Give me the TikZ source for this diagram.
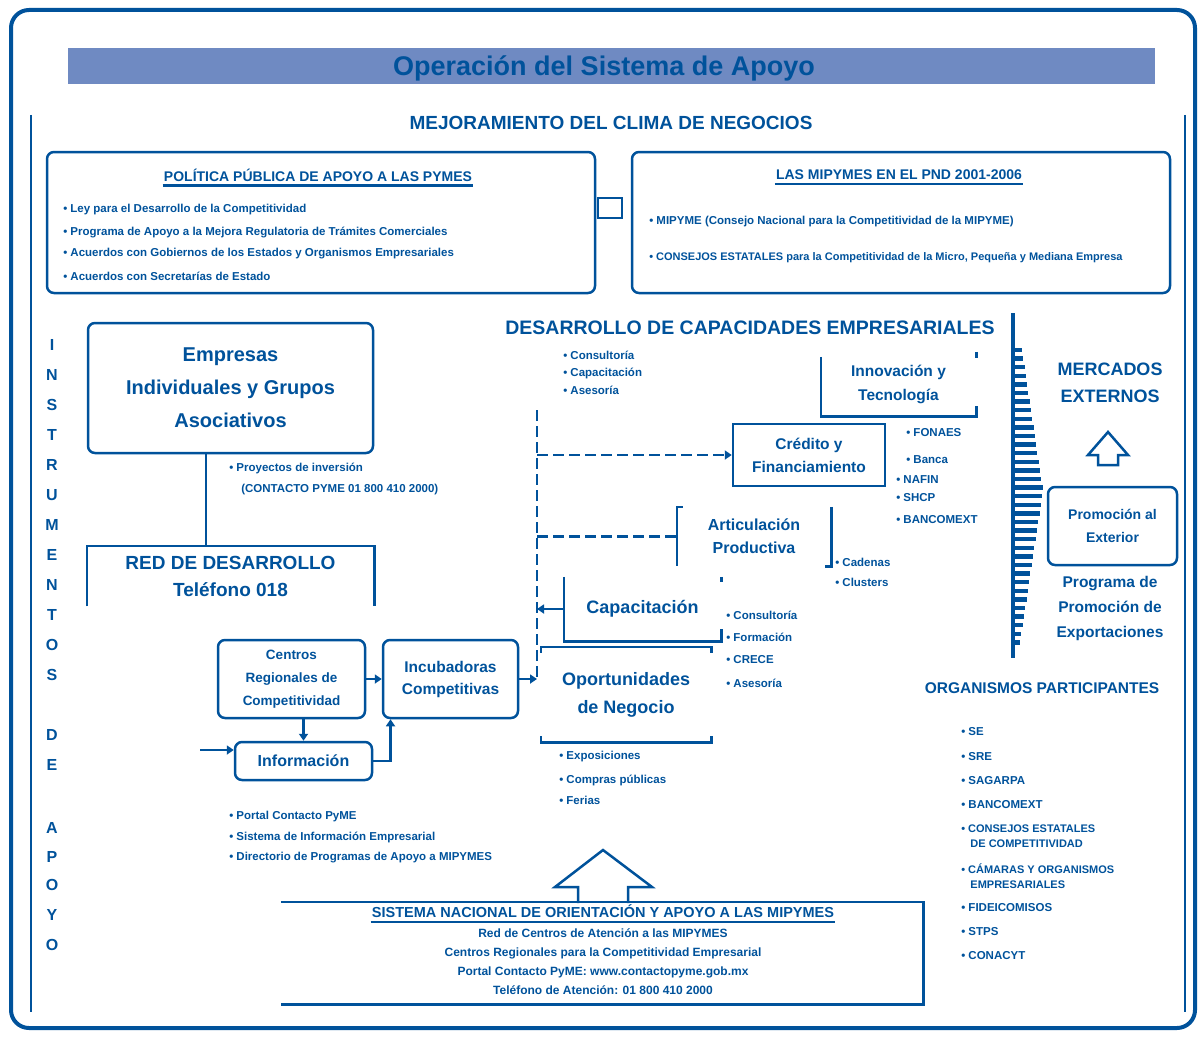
\documentclass[tikz,border=0pt]{standalone}
\usepackage{fontspec}
\setmainfont{Liberation Sans}
\usetikzlibrary{arrows.meta}
\definecolor{azul}{RGB}{0,82,155}
\definecolor{barra}{RGB}{111,138,194}

\tikzset{
  caja/.style={draw=azul, line width=2.5pt, rounded corners=7pt, align=center, text=azul,
    inner sep=0pt, font=\bfseries\fontsize{13}{23}\selectfont},
  hueco/.style={align=center, text=azul, inner sep=0pt, font=\bfseries\fontsize{13}{23}\selectfont},
  encab/.style={text=azul, inner sep=0pt, font=\bfseries\fontsize{14}{16}\selectfont},
  vineta/.style={anchor=west, align=left, text=azul, inner sep=0pt, font=\bfseries\fontsize{11.5}{15}\selectfont},
  letra/.style={text=azul, inner sep=0pt, font=\bfseries\fontsize{16}{16}\selectfont},
  flecha/.style={draw=azul, line width=2.5pt, -{Triangle[length=7pt,width=9pt]}},
  raya/.style={draw=azul, line width=2.5pt, dash pattern=on 11pt off 5pt},
}

\begin{document}
\begin{tikzpicture}[x=1pt,y=-1pt,line width=2.5pt,color=azul]
  \useasboundingbox (0,0) rectangle (1204,1038);
  % marco
  \draw[line width=4pt, rounded corners=18pt] (11,10) rectangle (1195,1028);
  \draw (31,115) -- (31,1012);
  \draw (1185,115) -- (1185,1012);
  \fill[barra] (68,48) rectangle (1155,84);
  \node[text=azul, font=\bfseries\fontsize{27}{27}\selectfont] (titulo) at (604,68) {Operación del Sistema de Apoyo};
  \node[encab, font=\bfseries\fontsize{19}{19}\selectfont] (clima) at (611,123) {MEJORAMIENTO DEL CLIMA DE NEGOCIOS};

  % clima de negocios
  \node[caja, minimum width=548, minimum height=141] (politica) at (321,222.5) {};
  \node[caja, minimum width=538, minimum height=141] (mipyme) at (901,222.5) {};
  \node[draw=azul, line width=2.5pt, minimum width=24, minimum height=20, inner sep=0pt] (union) at (610,208) {};
  \node[encab] (hpol) at (318,175) {POLÍTICA PÚBLICA DE APOYO A LAS PYMES};
  \draw ([yshift=-3pt]hpol.south west) -- ([yshift=-3pt]hpol.south east);
  \node[vineta] (p1) at (62,210) {• Ley para el Desarrollo de la Competitividad};
  \node[vineta] (p2) at (62,232) {• Programa de Apoyo a la Mejora Regulatoria de Trámites Comerciales};
  \node[vineta] (p3) at (62,254) {• Acuerdos con Gobiernos de los Estados y Organismos Empresariales};
  \node[vineta] (p4) at (62,276) {• Acuerdos con Secretarías de Estado};
  \node[encab] (hmip) at (899,175) {LAS MIPYMES EN EL PND 2001-2006};
  \draw ([yshift=-3pt]hmip.south west) -- ([yshift=-3pt]hmip.south east);
  \node[vineta] (m1) at (648,222) {• MIPYME (Consejo Nacional para la Competitividad de la MIPYME)};
  \node[vineta, font=\bfseries\fontsize{11}{15}\selectfont] (m2) at (648,258) {• CONSEJOS ESTATALES para la Competitividad de la Micro, Pequeña y Mediana Empresa};

  % instrumentos de apoyo
  \foreach \l/\yy in {I/345,N/375,S/405,T/435,R/465,U/495,M/525,E/555,N/585,T/615,O/645,S/675,
                      D/735,E/765,A/828,P/857,O/885,Y/915,O/945}
    \node[letra] (v\yy) at (52,\yy) {\l};

  \node[caja, font=\bfseries\fontsize{20}{33}\selectfont, minimum width=285, minimum height=130] (empresas) at (230.5,388)
    {Empresas\\Individuales y Grupos\\Asociativos};
  \node[hueco, font=\bfseries\fontsize{19}{27}\selectfont, minimum width=285, minimum height=58] (red) at (230.5,576)
    {RED DE DESARROLLO\\Teléfono 018};
  \draw (red.south west) -- (red.north west) -- (red.north east) -- (red.south east);
  \draw ([xshift=-24.5pt]empresas.south) -- ([xshift=-24.5pt]red.north);
  \node[vineta] (e1) at (228,468) {• Proyectos de inversión};
  \node[vineta] (e2) at (240,490) {(CONTACTO PYME 01 800 410 2000)};

  \node[caja, font=\bfseries\fontsize{13.5}{23}\selectfont, minimum width=147, minimum height=78] (centros) at (291.5,679)
    {Centros\\Regionales de\\Competitividad};
  \node[caja, font=\bfseries\fontsize{15.5}{22}\selectfont, minimum width=135, minimum height=78] (incub) at (450.5,679)
    {Incubadoras\\Competitivas};
  \node[caja, font=\bfseries\fontsize{16}{18}\selectfont, minimum width=137, minimum height=38] (info) at (303.5,761)
    {Información};
  \coordinate (entrada) at (200,750);
  \draw[flecha] (entrada) -- (entrada -| info.west);
  \draw[flecha] (centros.east) -- (incub.west);
  \draw[flecha] (centros.south -| info) -- (info.north);
  \draw[flecha] (info.east) -| ([xshift=-60pt]incub.south);
  \node[vineta] (i1) at (228,817) {• Portal Contacto PyME};
  \node[vineta] (i2) at (228,837) {• Sistema de Información Empresarial};
  \node[vineta] (i3) at (228,858) {• Directorio de Programas de Apoyo a MIPYMES};

  % desarrollo de capacidades
  \node[encab, font=\bfseries\fontsize{19.5}{20}\selectfont] (hdes) at (750,328) {DESARROLLO DE CAPACIDADES EMPRESARIALES};
  \node[vineta] (d1) at (562,355) {• Consultoría};
  \node[vineta] (d2) at (562,373) {• Capacitación};
  \node[vineta] (d3) at (562,390) {• Asesoría};
  \coordinate (ejeA) at (537,410);
  \coordinate (ejeB) at (537,682);
  \draw[raya] (ejeA) -- (ejeB);

  \node[hueco, font=\bfseries\fontsize{15.5}{24}\selectfont, minimum width=153, minimum height=62] (innov) at (898.5,384) {Innovación y\\Tecnología};
  \draw ([yshift=-5pt]innov.north west) -- (innov.south west) -- (innov.south east) -- ++(0,-10);
  \draw (innov.north east) -- ++(0,6);
  \node[draw=azul, line width=2.5pt, align=center, text=azul, inner sep=0pt, font=\bfseries\fontsize{15.5}{23}\selectfont,
    minimum width=152, minimum height=62] (credito) at (809,455) {Crédito y\\Financiamiento};
  \node[hueco, font=\bfseries\fontsize{16}{23}\selectfont, minimum width=152, minimum height=57] (artic) at (754,536.5) {Articulación\\Productiva};
  \draw ([xshift=6pt]artic.north west) -- (artic.north west) -- (artic.south west);
  \draw (artic.north east) -- (artic.south east) -- ++(-6,0);
  \node[hueco, font=\bfseries\fontsize{18}{23}\selectfont, minimum width=155, minimum height=62] (capac) at (642.5,609) {Capacitación};
  \draw (capac.north west) -- (capac.south west) -- (capac.south east) -- ++(0,-12);
  \draw (capac.north east) -- ++(0,5);
  \node[hueco, font=\bfseries\fontsize{18}{28}\selectfont, minimum width=168, minimum height=93] (oport) at (626,694.5) {Oportunidades\\de Negocio};
  \draw ([yshift=-6pt]oport.north west) -- (oport.north west) -- (oport.north east) -- ++(0,6);
  \draw ([yshift=6pt]oport.south west) -- (oport.south west) -- (oport.south east) -- ++(0,-6);

  \draw[raya, -{Triangle[length=7pt,width=9pt]}] (credito.west -| ejeA) -- (credito.west);
  \draw[raya] (artic.west -| ejeA) -- (artic.west);
  \draw[flecha] (capac.west) -- (capac.west -| ejeA);
  \draw[flecha] (incub.east) -- (incub.east -| ejeA);

  \node[vineta] (c1) at (905,433) {• FONAES};
  \node[vineta] (c2) at (905,460) {• Banca};
  \node[vineta] (c3) at (895,480) {• NAFIN};
  \node[vineta] (c4) at (895,498) {• SHCP};
  \node[vineta] (c5) at (895,520) {• BANCOMEXT};
  \node[vineta] (a1) at (834,562) {• Cadenas};
  \node[vineta] (a2) at (834,582) {• Clusters};
  \node[vineta] (k1) at (725,615) {• Consultoría};
  \node[vineta] (k2) at (725,637) {• Formación};
  \node[vineta] (k3) at (725,660) {• CRECE};
  \node[vineta] (k4) at (725,683) {• Asesoría};
  \node[vineta] (o1) at (558,757) {• Exposiciones};
  \node[vineta] (o2) at (558,780) {• Compras públicas};
  \node[vineta] (o3) at (558,800) {• Ferias};

  % mercados externos
  \draw[line width=4pt] (1013,313) -- (1013,658);
  \foreach \yy in {350,358.6,...,650} {
    \pgfmathsetmacro\largo{5+24*max(0,1-abs(\yy-490)/160)}
    \draw[line width=4.5pt] (1014,\yy) -- ++(\largo,0);
  }
  \node[hueco, font=\bfseries\fontsize{18}{27}\selectfont] (mercados) at (1110,383) {MERCADOS\\EXTERNOS};
  \draw (1108,432) -- (1128,455) -- (1118,455) -- (1118,465) -- (1098,465) -- (1098,455) -- (1088,455) -- cycle;
  \node[caja, font=\bfseries\fontsize{14}{23}\selectfont, minimum width=129, minimum height=78] (comercio) at (1112.5,526)
    {Promoción al\\Exterior};
  \node[hueco, font=\bfseries\fontsize{15.5}{25}\selectfont] (programa) at (1110,608) {Programa de\\Promoción de\\Exportaciones};

  \node[encab, font=\bfseries\fontsize{15.5}{16}\selectfont] (horg) at (1042,688) {ORGANISMOS PARTICIPANTES};
  \node[vineta] (r1) at (960,732) {• SE};
  \node[vineta] (r2) at (960,757) {• SRE};
  \node[vineta] (r3) at (960,781) {• SAGARPA};
  \node[vineta] (r4) at (960,805) {• BANCOMEXT};
  \node[vineta, font=\bfseries\fontsize{11}{15}\selectfont] (r5) at (960,836) {• CONSEJOS ESTATALES\\\ \ \ DE COMPETITIVIDAD};
  \node[vineta, font=\bfseries\fontsize{11}{15}\selectfont] (r6) at (960,876) {• CÁMARAS Y ORGANISMOS\\\ \ \ EMPRESARIALES};
  \node[vineta] (r7) at (960,908) {• FIDEICOMISOS};
  \node[vineta] (r8) at (960,932) {• STPS};
  \node[vineta] (r9) at (960,956) {• CONACYT};

  % sistema nacional
  \draw (578,903) -- (578,887) -- (555,887) -- (603,850) -- (652,887) -- (628,887) -- (628,903);
  \node[hueco, minimum width=640, minimum height=100] (sistema) at (602,953) {};
  \draw (sistema.north west) -- (sistema.north east) -- (sistema.south east) -- (sistema.south west);
  \node[encab, font=\bfseries\fontsize{14.5}{16}\selectfont] (hsis) at (603,911) {SISTEMA NACIONAL DE ORIENTACIÓN Y APOYO A LAS MIPYMES};
  \draw ([yshift=-3pt]hsis.south west) -- ([yshift=-3pt]hsis.south east);
  \node[hueco, font=\bfseries\fontsize{12}{19}\selectfont] (lineas) at (603,962)
    {Red de Centros de Atención a las MIPYMES\\Centros Regionales para la Competitividad Empresarial\\Portal Contacto PyME: www.contactopyme.gob.mx\\Teléfono de Atención: 01 800 410 2000};
\end{tikzpicture}
\end{document}
